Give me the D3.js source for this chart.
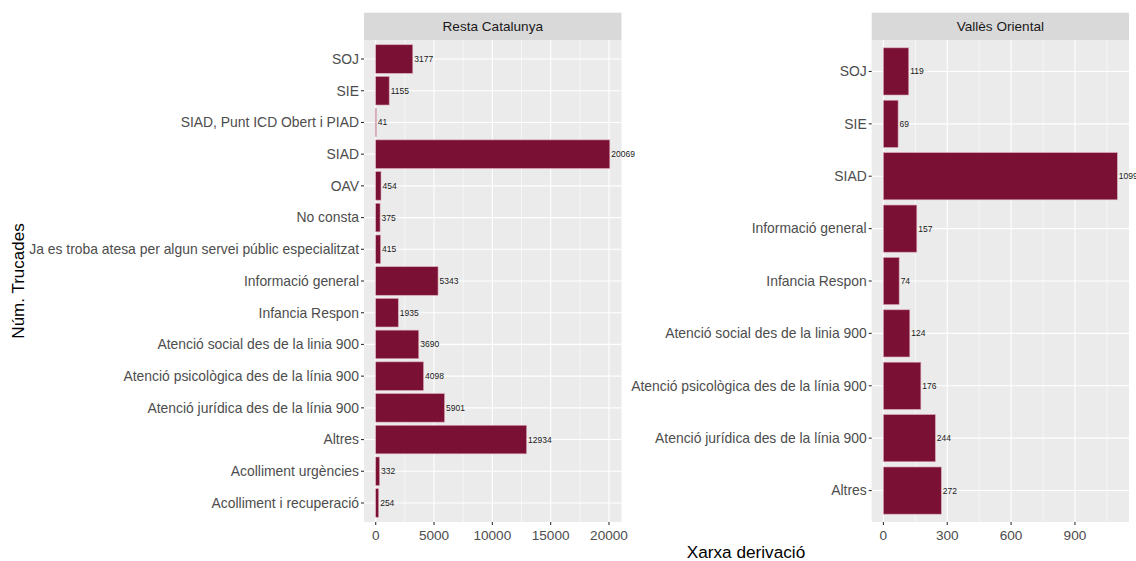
<!DOCTYPE html>
<html><head><meta charset="utf-8">
<script src="https://cdn.jsdelivr.net/npm/d3@7"></script>
<style>body{margin:0;background:#fff}svg{display:block;font-family:"Liberation Sans",Arial,sans-serif}</style>
</head><body><svg id="c" width="1136" height="561"></svg>
<script>
const leftCategories = ["SOJ","SIE","SIAD, Punt ICD Obert i PIAD","SIAD","OAV","No consta","Ja es troba atesa per algun servei públic especialitzat","Informació general","Infancia Respon","Atenció social des de la linia 900","Atenció psicològica des de la línia 900","Atenció jurídica des de la línia 900","Altres","Acolliment urgències","Acolliment i recuperació"];
const leftValues = [3177,1155,41,20069,454,375,415,5343,1935,3690,4098,5901,12934,332,254];
const leftTicks = [0,5000,10000,15000,20000];
const leftMinor = [2500,7500,12500,17500];

const rightCategories = ["SOJ","SIE","SIAD","Informació general","Infancia Respon","Atenció social des de la linia 900","Atenció psicològica des de la línia 900","Atenció jurídica des de la línia 900","Altres"];
const rightValues = [119,69,1099,157,74,124,176,244,272];
const rightTicks = [0,300,600,900];
const rightMinor = [150,450,750,1050];

const panelTitles = ["Resta Catalunya","Vallès Oriental"];
const yTitle = "Núm. Trucades";
const xTitle = "Xarxa derivació";

const svg = d3.select("#c");
const barColor = "#7A1034";
const pTop = 40, pBottom = 522, stripTop = 12.7;

function panel(x0, x1, cats, vals, ticks, minor, title) {
  const g = svg.append("g");
  const max = d3.max(vals);
  const x = d3.scaleLinear().domain([-0.05*max, 1.05*max]).range([x0, x1]);
  const y = d3.scalePoint().domain(cats).range([pTop, pBottom]).padding(0.6);
  const step = y.step();
  const bh = step*0.9;
  g.append("rect").attr("x", x0).attr("y", pTop).attr("width", x1-x0).attr("height", pBottom-pTop).attr("fill", "#EBEBEB");
  g.append("rect").attr("x", x0).attr("y", stripTop).attr("width", x1-x0).attr("height", pTop-stripTop).attr("fill", "#D9D9D9");
  g.append("text").attr("x", (x0+x1)/2).attr("y", (stripTop+pTop)/2).attr("dy","0.35em").attr("text-anchor","middle")
    .attr("font-size", 13.6).attr("fill", "#1A1A1A").text(title);
  g.selectAll("line.mi").data(minor).join("line").attr("class","mi").attr("x1", d=>x(d)).attr("x2", d=>x(d)).attr("y1", pTop).attr("y2", pBottom)
    .attr("stroke","#fff").attr("stroke-width",0.55);
  g.selectAll("line.ma").data(ticks).join("line").attr("class","ma").attr("x1", d=>x(d)).attr("x2", d=>x(d)).attr("y1", pTop).attr("y2", pBottom)
    .attr("stroke","#fff").attr("stroke-width",1.1);
  g.selectAll("line.hy").data(cats).join("line").attr("class","hy").attr("x1", x0).attr("x2", x1).attr("y1", d=>y(d)).attr("y2", d=>y(d))
    .attr("stroke","#fff").attr("stroke-width",1.1);
  g.selectAll("rect.bar").data(cats).join("rect").attr("class","bar").attr("x", x(0)).attr("y", d=>y(d)-bh/2)
    .attr("width", (d,i)=>x(vals[i])-x(0)).attr("height", bh).attr("fill", barColor)
    .attr("stroke","#d8a4b4").attr("stroke-width",0.6);
  g.selectAll("text.val").data(cats).join("text").attr("class","val").attr("x", (d,i)=>x(vals[i])+1.5).attr("y", d=>y(d)).attr("dy","0.35em")
    .attr("font-size", 8.5).attr("fill","#1a1a1a").text((d,i)=>vals[i]);
  const ya = g.append("g");
  ya.selectAll("line").data(cats).join("line").attr("x1", x0-3).attr("x2", x0).attr("y1", d=>y(d)).attr("y2", d=>y(d))
    .attr("stroke","#333").attr("stroke-width",1.1);
  ya.selectAll("text").data(cats).join("text").attr("x", x0-5).attr("y", d=>y(d)).attr("dy","0.35em").attr("text-anchor","end")
    .attr("font-size", 13.9).attr("fill","#4D4D4D").text(d=>d);
  const xa = g.append("g");
  xa.selectAll("line").data(ticks).join("line").attr("x1", d=>x(d)).attr("x2", d=>x(d)).attr("y1", pBottom).attr("y2", pBottom+3)
    .attr("stroke","#333").attr("stroke-width",1.1);
  xa.selectAll("text").data(ticks).join("text").attr("x", d=>x(d)).attr("y", pBottom+17.5).attr("text-anchor","middle")
    .attr("font-size", 13.6).attr("fill","#4D4D4D").text(d=>d);
}
panel(364, 621.5, leftCategories, leftValues, leftTicks, leftMinor, panelTitles[0]);
panel(871.7, 1129, rightCategories, rightValues, rightTicks, rightMinor, panelTitles[1]);

svg.append("text").attr("transform","translate(24,281) rotate(-90)").attr("text-anchor","middle")
  .attr("font-size", 17).attr("fill","#000").text(yTitle);
svg.append("text").attr("x", 746).attr("y", 558).attr("text-anchor","middle")
  .attr("font-size", 17.2).attr("fill","#000").text(xTitle);
</script></body></html>
